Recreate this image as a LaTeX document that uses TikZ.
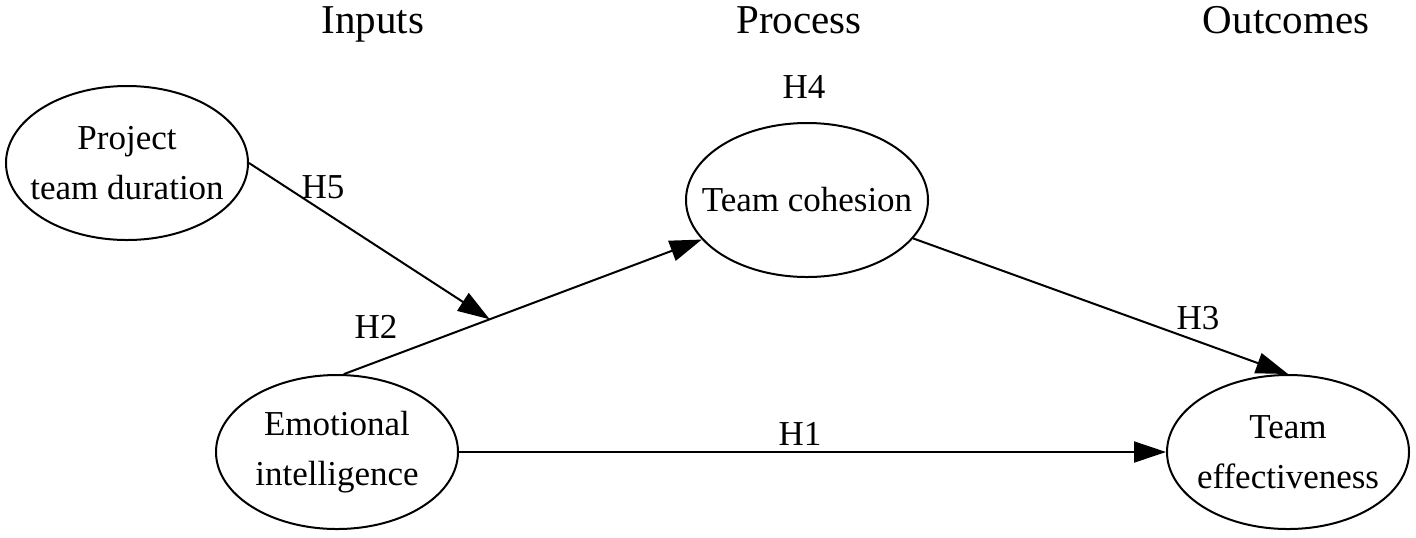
\documentclass[tikz,border=0pt]{standalone}
\usepackage{fontspec}
\setmainfont{Liberation Serif}
\usetikzlibrary{shapes.geometric,arrows.meta,calc}
\begin{document}
\begin{tikzpicture}[x=0.5pt,y=-0.5pt,
  construct/.style={draw,line width=1pt,ellipse,minimum width=121pt,minimum height=77pt,inner xsep=-12pt,inner ysep=0pt,align=center,font=\fontsize{17.5}{25}\selectfont},
  heading/.style={anchor=base,inner sep=0pt,font=\fontsize{20.5}{24}\selectfont},
  hlabel/.style={inner sep=0pt,font=\fontsize{17.5}{21}\selectfont},
  path/.style={line width=1pt,-{Triangle[length=16pt,width=10.5pt]}}]
\useasboundingbox (0,0) rectangle (1416,537);
\node[heading] (hin) at (373,33) {Inputs};
\node[heading] (hpr) at (799,33) {Process};
\node[heading] (hout) at (1286,33) {Outcomes};
\node[construct] (ptd) at (127,163) {Project\\team duration};
\node[construct] (ei) at (337,452) {Emotional\\intelligence};
\node[construct] (tc) at (807,200) {Team cohesion};
\node[construct] (te) at (1288,452) {Team\\effectiveness};
\coordinate (m) at ($(ei.85)!0.315!(tc.center)$);
\draw[path] (ei.85) -- (tc);
\draw[path] (ptd.east) -- (m);
\draw[path] (tc) -- (te.north);
\draw[path] (ei.east) -- (te.west);
\node[hlabel] (l5) at (323,187) {H5};
\node[hlabel] (l2) at (376,327) {H2};
\node[hlabel] (l3) at (1198,318) {H3};
\node[hlabel] (l1) at (800,434) {H1};
\node[hlabel] (l4) at (804,87) {H4};
\end{tikzpicture}
\end{document}
